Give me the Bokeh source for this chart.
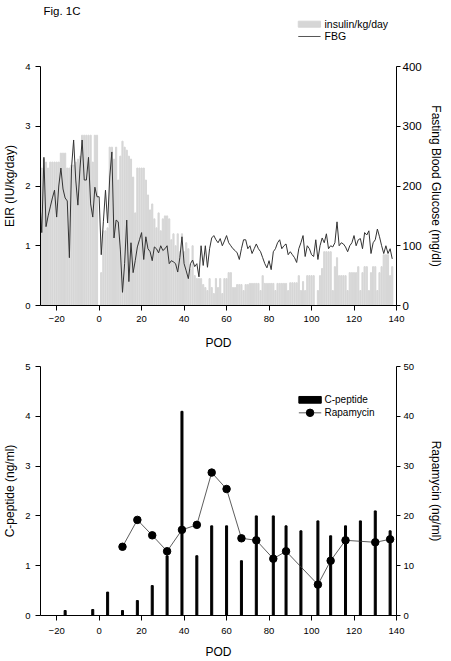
from bokeh.plotting import figure
from bokeh.models import Range1d, LinearAxis, FixedTicker
from bokeh.layouts import column
from bokeh.core.properties import value
from bokeh.embed import file_html
from bokeh.resources import INLINE

FONT = "Liberation Sans"

# ---------------- data: top panel ----------------
ins_days = list(range(-27, 139))
insulin = [2.3, 2.45, 2.4, 2.3, 2.4, 2.4, 2.4, 2.4, 2.4, 2.55,
           2.55, 2.55, 2.3, 2.3, 2.35, 2.35, 2.4, 2.45, 2.5, 2.85,
           2.85, 2.85, 2.85, 2.85, 2.4, 2.85, 2.85,
           0, 0.55, 1.25, 1.25, 1.3, 2.65, 2.65, 2.45, 2.65, 2.1,
           2.5, 2.75, 2.65, 2.6, 2.5, 2.45, 2.15, 1.55, 2.3, 2.3,
           2.3, 2.3, 2.1, 1.85, 1.6, 1.7, 1.45, 1.3, 1.55, 1.25,
           1.45, 1.5, 1.5, 1.45, 1.1, 1.2, 1.0, 1.2, 0.9, 1.2,
           0.9, 1.05, 0.95, 0.6, 1.0, 0.5, 0.45, 0.45, 0.45, 0.35,
           0.3, 0.25, 0.45, 0.3, 0.2, 0.45, 0.3, 0.45, 0.2, 0.45,
           0.45, 0.55, 0.55, 0.3, 0.3, 0.35, 0.35, 0.35, 0.25, 0.35,
           0.35, 0.37, 0.37, 0.37, 0.37, 0.37, 0.25, 0.5, 0.37, 0.37,
           0.37, 0.37, 0.37, 0.25, 0.37, 0.37, 0.37, 0.37, 0.37, 0.25,
           0.38, 0.38, 0.38, 0.38, 0.5, 0.25, 0.4, 0.25, 0.5, 0.5,
           0.5, 0.5, 0, 0.25, 0.5, 0.62, 0.9, 0.9, 0.9, 0.9,
           0.25, 0.65, 0.8, 0.5, 0.5, 0.5, 0.5, 0.25, 0.55, 0.55,
           0.55, 0.55, 0.65, 0.25, 0.55, 0.65, 0.65, 0.25, 0.55, 0.65,
           0.65, 0.25, 0.55, 0.65, 0.85, 0.85, 0.85, 0.5, 0.65]

fbg_days = list(range(-28, 139))
fbg = [180, 122, 248, 132, 150, 165, 180, 193, 148, 200,
       230, 195, 180, 175, 80, 230, 277, 210, 168, 230,
       277, 210, 210, 248, 170, 148, 198, 182,
       182, 85, 140, 193, 138, 215, 257, 113, 143, 140,
       93, 22, 70, 143, 40, 105, 55, 75, 98, 110,
       122, 77, 115, 95, 90, 75, 98, 95, 88, 100,
       92, 95, 100, 70, 75, 73, 70, 56, 80, 115,
       70, 58, 45, 70, 76, 65, 70, 48, 100, 67,
       100, 64, 95, 113, 117, 110, 105, 112, 100, 108,
       117, 105, 100, 95, 92, 88, 77, 95, 110, 110,
       95, 100, 87, 95, 103, 95, 90, 80, 70, 63,
       75, 60, 90, 95, 105, 110, 95, 100, 103, 85,
       90, 85, 80, 72, 95, 105, 117, 82, 100, 95,
       85, 82, 110, 77, 100, 113, 105, 120, 95, 100,
       98, 105, 140, 100, 105, 103, 98, 90, 100, 105,
       117, 100, 110, 112, 95, 122, 118, 125, 87, 105,
       110, 128, 115, 100, 87, 100, 87, 95, 78]

# ---------------- data: bottom panel ----------------
cpep_days = [-16, -3, 4, 11, 18, 25, 32, 39, 46, 53, 60, 67, 74, 82, 88,
             95, 103, 109, 116, 123, 130, 137]
cpep = [0.1, 0.12, 0.47, 0.1, 0.3, 0.6, 1.2, 4.1, 1.2, 1.8, 1.8, 1.1, 2.0,
        2.0, 1.8, 1.7, 1.9, 1.6, 1.8, 1.9, 2.1, 1.7]
rapa_days = [11, 18, 25, 32, 39, 46, 53, 60, 67, 74, 82, 88, 103, 109, 116,
             130, 137]
rapa = [13.8, 19.2, 16.1, 12.9, 17.2, 18.2, 28.7, 25.4, 15.5, 15.1, 11.4,
        12.9, 6.2, 11.0, 15.1, 14.7, 15.3]

x_ticks = [-20, 0, 20, 40, 60, 80, 100, 120, 140]
BAR_GREY = "#d6d6d6"


def style_axis(ax, label_size="9.5px", label_standoff=3, axis_label_standoff=3,
               tick_out=5, axis_label_size="12px"):
    ax.axis_line_color = "black"
    ax.axis_line_width = 1
    ax.major_tick_line_color = "black"
    ax.major_tick_out = tick_out
    ax.major_tick_in = 0
    ax.minor_tick_line_color = None
    ax.major_label_text_font = FONT
    ax.major_label_text_font_size = label_size
    ax.major_label_text_color = "black"
    ax.major_label_standoff = label_standoff
    ax.axis_label_text_font = FONT
    ax.axis_label_text_font_size = axis_label_size
    ax.axis_label_text_font_style = "normal"
    ax.axis_label_text_color = "black"
    ax.axis_label_standoff = axis_label_standoff


def base_fig(height, y_range, top, bottom, axes=True):
    kw = {}
    if not axes:
        kw = dict(x_axis_location=None, y_axis_location=None)
    f = figure(width=451, height=height, x_range=Range1d(-27.6, 140),
               y_range=y_range, output_backend="svg", toolbar_location=None,
               min_border_left=40, min_border_right=55,
               min_border_top=top, min_border_bottom=bottom, **kw)
    f.outline_line_color = None
    f.grid.visible = False
    f.background_fill_color = "white"
    f.border_fill_color = "white"
    return f


# ---------------- header (title + legend of top panel) ----------------
p0 = base_fig(58, Range1d(4.1333, 5.1), 0, 0, axes=False)
p0.text(x=[-26.2], y=[4.933], text=["Fig. 1C"], text_font=value(FONT),
        text_font_size=value("11.5px"), text_baseline="middle", text_align="left",
        text_color="black")
p0.quad(left=[93.75], right=[104.25], bottom=[4.655], top=[4.755], color=BAR_GREY)
p0.line([93.75, 104.25], [4.5, 4.5], color="#555555", line_width=1)
p0.text(x=[106.1, 106.1], y=[4.705, 4.5], text=["insulin/kg/day", "FBG"],
        text_font=value(FONT), text_font_size=value("10.5px"),
        text_baseline="middle", text_align="left", text_color="black")

# ---------------- top figure ----------------
p1 = base_fig(294, Range1d(0, 4), 8, 46)
p1.extra_y_ranges = {"fbg": Range1d(0, 400)}

p1.xaxis.ticker = FixedTicker(ticks=x_ticks)
p1.xaxis.axis_label = "POD"
style_axis(p1.xaxis[0], label_standoff=5, axis_label_standoff=11)
p1.yaxis.ticker = FixedTicker(ticks=[0, 1, 2, 3, 4])
p1.yaxis.axis_label = "EIR (IU/kg/day)"
style_axis(p1.yaxis[0], label_standoff=5, axis_label_standoff=5)

ax_r1 = LinearAxis(y_range_name="fbg",
                   ticker=FixedTicker(ticks=[0, 100, 200, 300, 400]),
                   axis_label="Fasting Blood Glucose (mg/dl)")
style_axis(ax_r1, label_size="11.5px", tick_out=4, label_standoff=2,
           axis_label_standoff=4)
p1.add_layout(ax_r1, "right")

p1.vbar(x=ins_days, top=insulin, width=0.55, color=BAR_GREY)
p1.line(fbg_days, fbg, y_range_name="fbg", color="#333333", line_width=1)

# ---------------- bottom figure ----------------
p2 = base_fig(309, Range1d(0, 5), 14, 46)
p2.extra_y_ranges = {"rapa": Range1d(0, 50)}

p2.xaxis.ticker = FixedTicker(ticks=x_ticks)
p2.xaxis.axis_label = "POD"
style_axis(p2.xaxis[0], label_standoff=7, axis_label_standoff=8)
p2.yaxis.ticker = FixedTicker(ticks=[0, 1, 2, 3, 4, 5])
p2.yaxis.axis_label = "C-peptide (ng/ml)"
style_axis(p2.yaxis[0], label_standoff=5, axis_label_standoff=5)

ax_r2 = LinearAxis(y_range_name="rapa",
                   ticker=FixedTicker(ticks=[0, 10, 20, 30, 40, 50]),
                   axis_label="Rapamycin (ng/ml)")
style_axis(ax_r2, tick_out=4, label_standoff=3, axis_label_standoff=12)
p2.add_layout(ax_r2, "right")

p2.vbar(x=cpep_days, top=cpep, width=0.95, color="black")
p2.line(rapa_days, rapa, y_range_name="rapa", color="#333333", line_width=0.8)
p2.scatter(rapa_days, rapa, y_range_name="rapa", size=7.5, color="black")

# legend (bottom)
p2.quad(left=[94.03], right=[104.58], bottom=[4.263], top=[4.398], color="black")
p2.line([94.03, 104.58], [4.07, 4.07], color="#333333", line_width=0.8)
p2.scatter([99.3], [4.07], size=7.5, color="black")
p2.text(x=[106.1, 106.1], y=[4.33, 4.07], text=["C-peptide", "Rapamycin"],
        text_font=value(FONT), text_font_size=value("10px"),
        text_baseline="middle", text_align="left", text_color="black")

layout = column(p0, p1, p2, spacing=0)
open("out.html", "w").write(file_html(layout, INLINE))
